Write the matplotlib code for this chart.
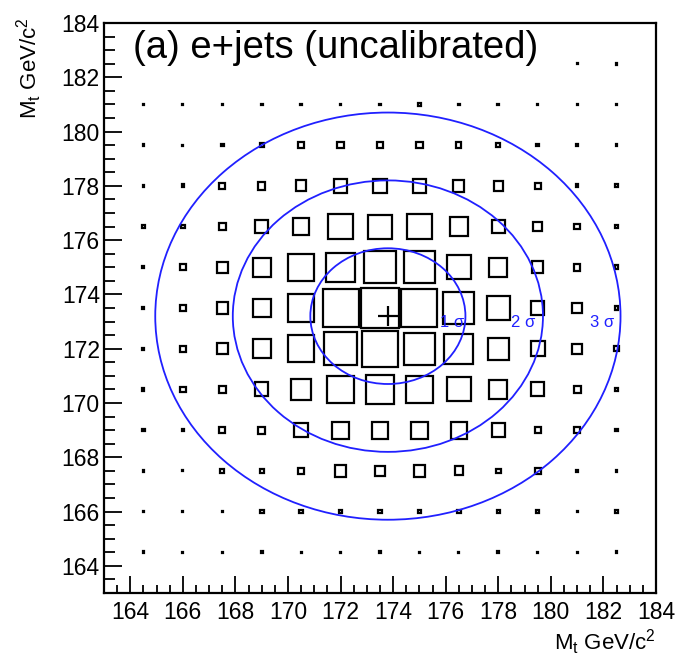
import numpy as np
import matplotlib
matplotlib.use('Agg')
import matplotlib.pyplot as plt
from matplotlib.patches import Rectangle, Ellipse

plt.rcParams['font.family'] = ['Liberation Sans', 'DejaVu Sans']
plt.rcParams['mathtext.fontset'] = 'custom'
plt.rcParams['mathtext.rm'] = 'Liberation Sans'
plt.rcParams['mathtext.it'] = 'Liberation Sans'

# bin centres (GeV/c^2)
mw_centres = [164.5, 166.0, 167.5, 169.0, 170.5, 172.0, 173.5,
              175.0, 176.5, 178.0, 179.5, 181.0, 182.5]
mt_centres = [182.5, 181.0, 179.5, 178.0, 176.5, 175.0, 173.5,
              172.0, 170.5, 169.0, 167.5, 166.0, 164.5]

# relative cell contents, rows from top (182.5) to bottom (164.5)
weight = [
    [2, 2, 2, 2, 2, 2, 2, 2, 2, 2, 2, 2, 3],
    [3, 2.5, 2.5, 3, 3, 3, 3, 4, 3, 3, 2.5, 2.5, 3],
    [3, 2.5, 4, 5.5, 7.5, 8, 8, 8, 6.5, 5, 4, 4, 3],
    [3, 4, 7, 9, 12, 15, 15, 15, 12.5, 11, 7, 4, 4],
    [4, 5, 8.5, 15, 18, 26, 25, 26, 20, 15, 11, 7, 5],
    [3.5, 7, 12, 20, 28, 30, 33, 33, 25, 20, 13, 8, 5],
    [3.5, 8, 12.5, 20, 28, 38, 40, 38, 33, 25, 15, 11, 5],
    [3.5, 7, 12, 20, 28, 34, 37, 33, 31, 23, 16, 11, 6],
    [3.5, 7, 8.5, 15, 22, 28, 30, 28, 25, 20, 15, 8.5, 5],
    [4, 4, 7, 8, 15, 18, 18, 18, 18, 15, 7.5, 7, 4],
    [3, 2, 5, 5, 7, 13, 11, 13, 10, 6, 7, 4, 3],
    [3, 2.5, 2.5, 5, 5, 5, 5, 5, 5, 4, 4, 2.5, 5],
    [3, 2, 2, 3, 2, 2, 3, 2, 2, 3, 2, 2, 3],
]

# fitted minimum and 1-sigma widths of the contour
fit_mw, fit_mt = 173.8, 173.2
sig_mw, sig_mt = 2.95, 2.5
sigma_labels = ['1 σ', '2 σ', '3 σ']
label_x = [175.8, 178.5, 181.5]
label_y = [172.95, 172.95, 172.95]

bin_w = 1.5
wmax = max(max(r) for r in weight)
box_lw = 1.6
# part of the stroke width in data units, so tiny cells come out as solid dots
stroke = 0.6 * box_lw / 72 * 100 / 26.2

fig = plt.figure(figsize=(6.77, 6.56), dpi=100)
ax = fig.add_axes([0.1536, 0.096, 0.8154, 0.869])

for i, y in enumerate(mt_centres):
    for j, x in enumerate(mw_centres):
        s = max(bin_w * weight[i][j] / wmax - stroke, 0.03)
        ax.add_patch(Rectangle((x - s / 2, y - s / 2), s, s, fill=False,
                               ec='black', lw=box_lw, zorder=2))

for n in [1, 2, 3]:
    ax.add_patch(Ellipse((fit_mw, fit_mt), 2 * n * sig_mw, 2 * n * sig_mt,
                         fill=False, ec='#2020ff', lw=1.3, zorder=3))

for t, x, y in zip(sigma_labels, label_x, label_y):
    ax.text(x, y, t, color='#2020ff', fontsize=12, ha='left', va='center',
            zorder=4)

ax.plot([fit_mw], [fit_mt], marker='+', ms=15, mew=1.6, color='black',
        zorder=4)

ax.text(0.0525, 0.956, '(a) e+jets (uncalibrated)', transform=ax.transAxes,
        fontsize=27.5, ha='left', va='center', zorder=10,
        bbox=dict(facecolor='white', edgecolor='none', pad=1))

ax.set_xlim(163, 184)
ax.set_ylim(163, 184)
ax.set_xticks(np.arange(164, 185, 2))
ax.set_yticks(np.arange(164, 185, 2))
ax.set_xticks(np.arange(163, 184.1, 0.5), minor=True)
ax.set_yticks(np.arange(163, 184.1, 0.5), minor=True)
ax.tick_params(which='both', direction='in', top=False, right=False,
               labelsize=16.5, width=1.3)
ax.tick_params(axis='x', which='major', length=12, pad=6)
ax.tick_params(axis='x', which='minor', length=6)
ax.tick_params(axis='y', which='major', length=13, pad=3)
ax.tick_params(axis='y', which='minor', length=8)
for sp in ax.spines.values():
    sp.set_linewidth(1.6)

ax.set_xlabel('M$_{t}$ GeV/c$^{2}$', fontsize=16, loc='right')
ax.set_ylabel('M$_{t}$ GeV/c$^{2}$', fontsize=16, loc='top')
ax.xaxis.set_label_coords(1.0, -0.06)
ax.yaxis.set_label_coords(-0.108, 1.01)

fig.savefig('out.png', dpi=100)
